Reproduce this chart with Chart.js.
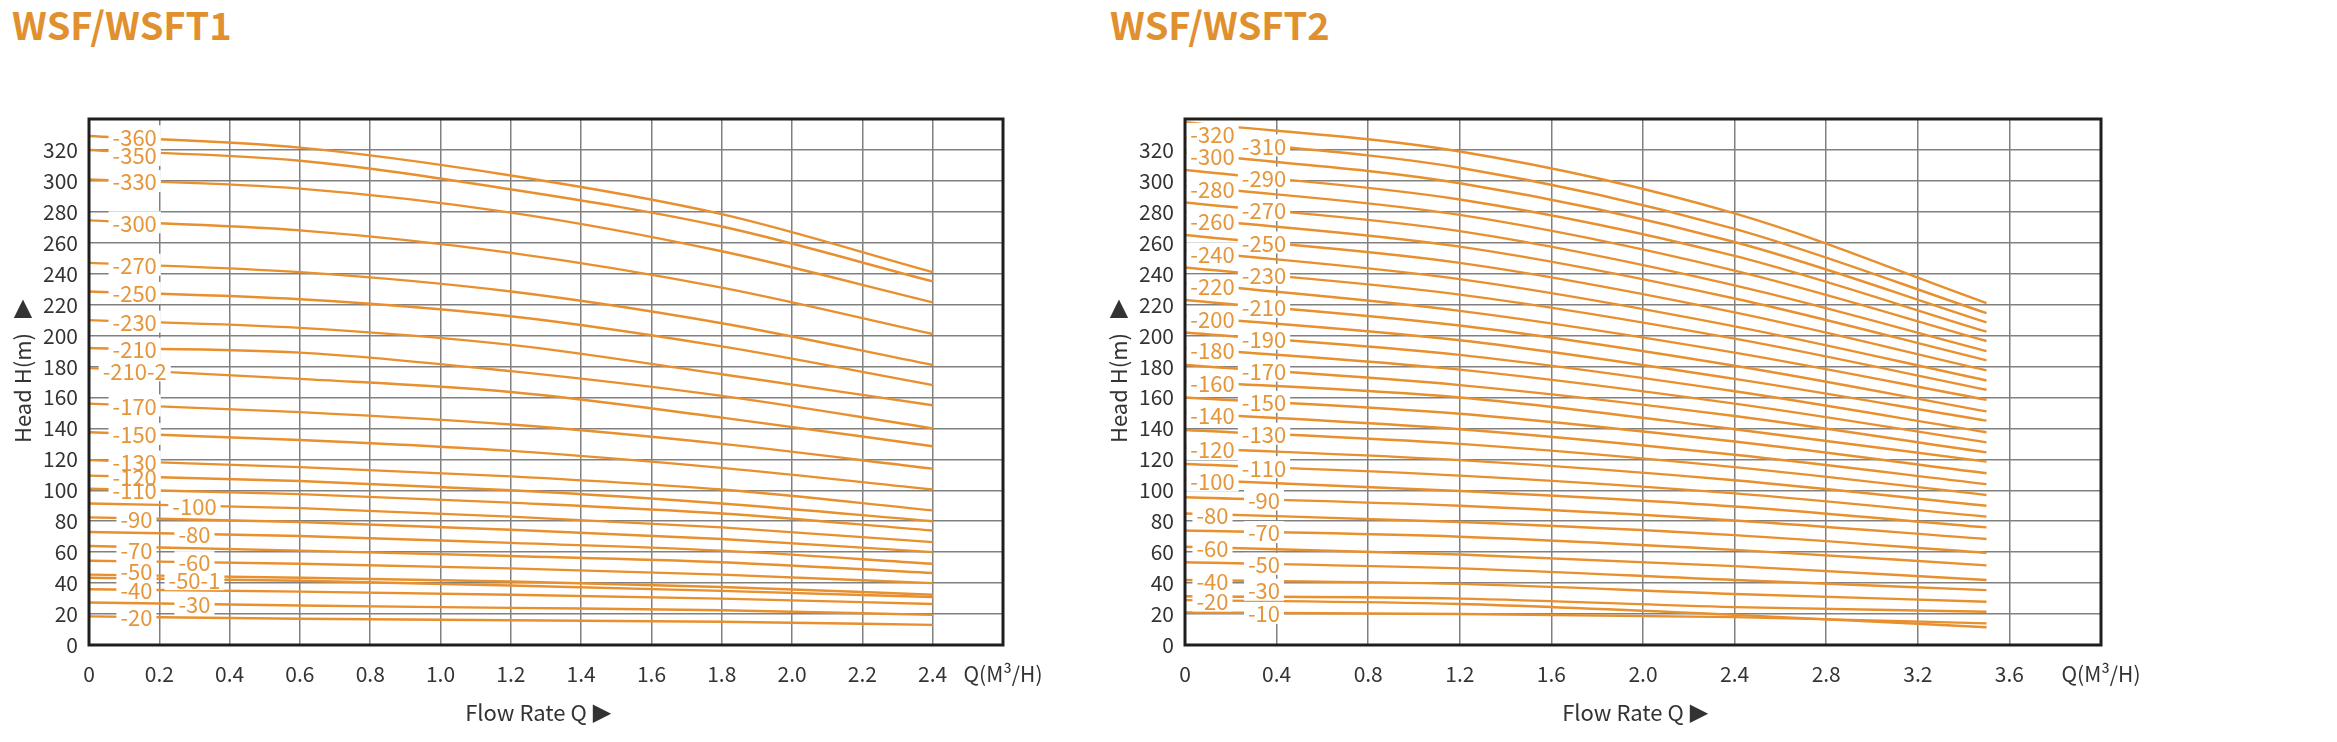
<!DOCTYPE html>
<html>
<head>
<meta charset="utf-8">
<title>WSF/WSFT pump curves</title>
<script src="https://cdn.jsdelivr.net/npm/chart.js@4.4.1/dist/chart.umd.min.js"></script>
<style>
  html, body { margin: 0; padding: 0; background: #fff; }
  body { width: 2337px; height: 742px; position: relative; overflow: hidden; }
  .title { position: absolute; top: 5px; font-family: 'Noto Sans CJK SC', 'Noto Sans', sans-serif;
           font-size: 38px; line-height: 38px; font-weight: 700; color: #E1902F; white-space: nowrap; }
  .box { position: absolute; top: 0; height: 742px; }
</style>
</head>
<body>
<div class="title" style="left:12px">WSF/WSFT1</div>
<div class="title" style="left:1110px">WSF/WSFT2</div>
<div class="box" style="left:0;width:1080px"><canvas id="chart-t1"></canvas></div>
<div class="box" style="left:1080px;width:1257px"><canvas id="chart-t2"></canvas></div>

<script>
const FONT = "'Noto Sans CJK SC', 'Noto Sans', sans-serif";
const LINE_ORANGE = '#E88F2E';
const TEXT_ORANGE = '#E5953A';

// ---- WSF/WSFT1 : head (m) read at each flow point (m3/h)
const flowT1 = [0, 0.6, 1.2, 1.8, 2.4];
const modelsT1 = ['-360', '-350', '-330', '-300', '-270', '-250', '-230', '-210', '-210-2', '-170', '-150', '-130',
                  '-120', '-110', '-100', '-90', '-80', '-70', '-60', '-50', '-50-1', '-40', '-30', '-20'];
const headT1 = [
  [329, 321.5, 303.5, 278.5, 241],
  [320, 313, 294.5, 270.5, 235],
  [301, 295, 279.5, 254.5, 221.5],
  [274.5, 268, 253.5, 231, 201],
  [247, 241, 228.5, 208, 181],
  [228.5, 223.5, 212.5, 193, 168],
  [210, 205, 194, 175, 155],
  [192, 189, 177, 161, 140],
  [179, 172, 163.5, 147, 128.5],
  [156, 150.5, 142.5, 130, 114],
  [137.5, 132.5, 125.5, 114.5, 100.5],
  [119.5, 115, 109, 100.5, 87],
  [109.5, 106, 100, 91.5, 80],
  [101, 97.5, 92, 85, 74],
  [91.5, 88.5, 83, 76, 66.5],
  [82.5, 79.5, 74.5, 68.5, 60],
  [73, 70.5, 66, 61, 52.5],
  [64, 61, 57.5, 53.5, 46.5],
  [54.5, 52.5, 49.5, 45.5, 40],
  [45.5, 43.5, 41, 37.5, 32.5],
  [43.5, 41.5, 38.5, 35, 31],
  [36, 34.5, 32.5, 30, 26.5],
  [27.5, 25.5, 24, 22.5, 19.5],
  [18.5, 17, 16, 15, 13]
];
// flow value where each model tag sits
const tagAtT1 = [0.13, 0.13, 0.13, 0.13, 0.13, 0.13, 0.13, 0.13, 0.13, 0.13, 0.13, 0.13,
                 0.13, 0.13, 0.3, 0.135, 0.3, 0.135, 0.3, 0.135, 0.3, 0.135, 0.3, 0.135];

// ---- WSF/WSFT2
const flowT2 = [0, 1.2, 2.4, 3.5];
const modelsT2 = ['-320', '-310', '-300', '-290', '-280', '-270', '-260', '-250', '-240', '-230', '-220', '-210',
                  '-200', '-190', '-180', '-170', '-160', '-150', '-140', '-130', '-120', '-110', '-100', '-90',
                  '-80', '-70', '-60', '-50', '-40', '-30', '-20', '-10'];
const headT2 = [
  [338, 319, 279, 221],
  [328, 308.5, 269, 214.5],
  [318, 298.5, 260.5, 208.5],
  [307, 288, 251.5, 202.5],
  [297, 278, 242, 196.5],
  [286, 267.5, 232.5, 190],
  [276, 257.5, 224, 184],
  [265, 247, 215, 177.5],
  [255, 236.5, 206, 171],
  [244, 226.5, 198, 165],
  [234, 216, 189, 158.5],
  [223, 206.5, 180.5, 151],
  [212.5, 197, 172, 145],
  [202, 187.5, 164, 137.5],
  [192, 178, 156, 131],
  [181, 168, 148, 124.5],
  [170.5, 160, 139.5, 118.5],
  [160, 149.5, 131.5, 111],
  [150, 139.5, 123, 104],
  [139, 130, 115, 97],
  [127.5, 119.5, 106.5, 90],
  [117, 109.5, 98, 83],
  [107, 99.5, 89.5, 76],
  [95.5, 90, 80.5, 68.5],
  [85, 79.5, 71, 59.5],
  [74, 70, 61.5, 51.5],
  [63.5, 58.5, 51, 42],
  [53.5, 49.5, 42, 35.5],
  [42, 39.5, 33, 28],
  [31.5, 30, 24.5, 21.5],
  [29, 26.5, 19.5, 11.5],
  [21, 20, 18, 14]
];
const tagAtT2 = modelsT2.map((m, i) => (i % 2 === 0 ? 0.12 : 0.345));

const headTickMax = 320;

Chart.defaults.font.family = FONT;
Chart.defaults.color = '#333';

// model tags drawn on the curves with a white knock-out behind them
const curveTags = {
  id: 'curveTags',
  afterDatasetsDraw(chart, args, opts) {
    const {ctx} = chart;
    const xs = chart.scales.x;
    ctx.save();
    ctx.font = `22px ${FONT}`;
    ctx.textAlign = 'center';
    ctx.textBaseline = 'middle';
    const spots = chart.data.datasets.map((ds, i) => {
      const px = xs.getPixelForValue(opts.at[i]);
      const pt = chart.getDatasetMeta(i).dataset.interpolate({x: px}, 'x');
      const y = (pt ? pt.y : chart.scales.y.getPixelForValue(ds.data[0].y)) + (opts.nudge[ds.label] || 0);
      return {text: ds.label, x: px, y: y, w: ctx.measureText(ds.label).width + 8};
    });
    ctx.fillStyle = '#fff';
    spots.forEach(s => ctx.fillRect(s.x - s.w / 2, s.y - 11, s.w, 22));
    ctx.fillStyle = TEXT_ORANGE;
    spots.forEach(s => ctx.fillText(s.text, s.x, s.y + 1));
    ctx.restore();
  }
};

const frameAndTitles = {
  id: 'frameAndTitles',
  afterDraw(chart) {
    const {ctx, chartArea: a} = chart;
    ctx.save();
    ctx.strokeStyle = '#1e1e1e';
    ctx.lineWidth = 3;
    ctx.strokeRect(a.left, a.top, a.right - a.left, a.bottom - a.top);

    const midX = (a.left + a.right) / 2;
    const midY = (a.top + a.bottom) / 2;
    ctx.fillStyle = '#333';
    ctx.textAlign = 'center';
    ctx.textBaseline = 'middle';
    ctx.font = `22px ${FONT}`;
    ctx.fillText('Flow Rate Q', midX - 20, 713);
    ctx.font = '24px DejaVu Sans';
    ctx.fillText('▶', midX + 56, 714);
    ctx.fillText('▲', a.left - 66, a.top + 190);

    ctx.translate(a.left - 66, midY + 6);
    ctx.rotate(-Math.PI / 2);
    ctx.font = `22px ${FONT}`;
    ctx.fillText('Head H(m)', 0, 0);
    ctx.restore();
  }
};

function pumpChart(id, flow, models, heads, tagAt, nudge, xMax, xStep, yWidth, padRight) {
  const grid = {color: '#808080', lineWidth: 1.5, drawTicks: false};
  return new Chart(document.getElementById(id), {
    type: 'line',
    data: {
      datasets: models.map((m, i) => ({
        label: m,
        data: flow.map((q, j) => ({x: q, y: heads[i][j]})),
        borderColor: LINE_ORANGE,
        borderWidth: 2.4,
        pointRadius: 0,
        cubicInterpolationMode: 'monotone',
        fill: false
      }))
    },
    options: {
      responsive: true,
      maintainAspectRatio: false,
      animation: false,
      devicePixelRatio: 1,
      layout: {padding: {top: 119, right: padRight, left: 0, bottom: 0}},
      scales: {
        x: {
          type: 'linear',
          min: 0,
          max: xMax,
          grid: grid,
          border: {display: false},
          ticks: {
            stepSize: xStep,
            autoSkip: false,
            maxRotation: 0,
            padding: 16,
            font: {size: 21},
            callback: v => (v > xMax - 0.01 ? 'Q(M³/H)' : (v === 0 ? '0' : v.toFixed(1)))
          },
          afterFit: s => { s.height = 97; }
        },
        y: {
          min: 0,
          max: 340,
          grid: grid,
          border: {display: false},
          ticks: {
            stepSize: 20,
            padding: 11,
            font: {size: 21},
            callback: v => (v > headTickMax ? '' : v)
          },
          afterFit: s => { s.width = yWidth; }
        }
      },
      plugins: {
        legend: {display: false},
        tooltip: {enabled: false},
        curveTags: {at: tagAt, nudge: nudge}
      }
    },
    plugins: [curveTags, frameAndTitles]
  });
}

pumpChart('chart-t1', flowT1, modelsT1, headT1, tagAtT1,
  {'-360': -2, '-350': 3, '-70': 3, '-50': -5}, 2.6, 0.2, 89, 77);
pumpChart('chart-t2', flowT2, modelsT2, headT2, tagAtT2,
  {'-320': 9, '-30': -7}, 4.0, 0.4, 105, 236);
</script>
</body>
</html>
